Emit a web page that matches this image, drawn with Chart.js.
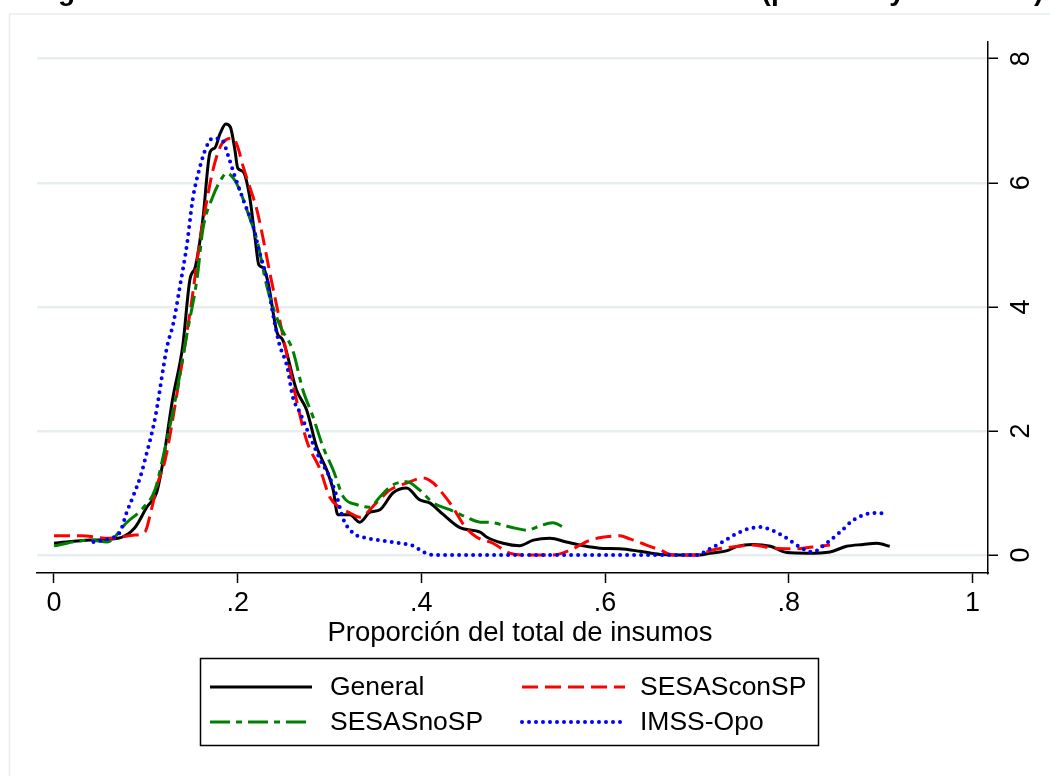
<!DOCTYPE html>
<html>
<head>
<meta charset="utf-8">
<script src="https://cdn.jsdelivr.net/npm/chart.js@4.4.1/dist/chart.umd.min.js"></script>
<style>
  body { margin: 0; background: #fff; }
  #wrap { width: 1050px; height: 776px; }
</style>
</head>
<body>
<div id="wrap"><canvas id="myChart" width="1050" height="776"></canvas></div>
<script>
// values
const generalX = [0, 0.04, 0.07, 0.088, 0.101, 0.112, 0.119, 0.129, 0.14, 0.148, 0.154, 0.162, 0.17, 0.175, 0.181, 0.187, 0.192, 0.197, 0.2, 0.206, 0.213, 0.219, 0.223, 0.228, 0.233, 0.243, 0.249, 0.264, 0.275, 0.286, 0.297, 0.304, 0.309, 0.322, 0.333, 0.344, 0.355, 0.369, 0.384, 0.398, 0.409, 0.424, 0.442, 0.464, 0.471, 0.489, 0.507, 0.522, 0.54, 0.558, 0.576, 0.594, 0.616, 0.638, 0.66, 0.703, 0.714, 0.733, 0.744, 0.761, 0.78, 0.798, 0.82, 0.845, 0.863, 0.881, 0.896, 0.91];
const generalY = [0.19, 0.24, 0.27, 0.44, 0.77, 1.02, 1.53, 2.5, 3.35, 4.44, 4.65, 5.4, 6.5, 6.56, 6.8, 6.95, 6.9, 6.53, 6.24, 6.18, 5.78, 5.1, 4.68, 4.63, 4.4, 3.58, 3.47, 2.66, 2.34, 1.74, 1.37, 1.05, 0.65, 0.65, 0.53, 0.69, 0.73, 1.0, 1.08, 0.89, 0.84, 0.65, 0.44, 0.37, 0.29, 0.19, 0.15, 0.24, 0.27, 0.21, 0.15, 0.11, 0.1, 0.06, 0.01, 0, 0.03, 0.07, 0.14, 0.17, 0.14, 0.04, 0.03, 0.05, 0.14, 0.17, 0.19, 0.14];

const conX = [0, 0.03, 0.06, 0.086, 0.099, 0.106, 0.113, 0.121, 0.135, 0.15, 0.159, 0.166, 0.173, 0.181, 0.188, 0.195, 0.2, 0.206, 0.213, 0.221, 0.228, 0.235, 0.247, 0.26, 0.275, 0.29, 0.3, 0.311, 0.322, 0.333, 0.351, 0.366, 0.384, 0.402, 0.413, 0.42, 0.432, 0.449, 0.46, 0.478, 0.496, 0.51, 0.543, 0.562, 0.584, 0.605, 0.616, 0.627, 0.645, 0.66, 0.674, 0.7, 0.717, 0.739, 0.761, 0.783, 0.805, 0.826, 0.845];
const conY = [0.31, 0.31, 0.27, 0.32, 0.37, 0.73, 1.16, 1.53, 2.7, 4.1, 5.08, 5.68, 6.2, 6.58, 6.7, 6.72, 6.58, 6.26, 5.94, 5.56, 5.08, 4.55, 3.7, 2.77, 1.85, 1.37, 0.94, 0.77, 0.68, 0.61, 0.84, 1.05, 1.16, 1.24, 1.16, 1.05, 0.82, 0.43, 0.29, 0.19, 0.03, 0, 0, 0.08, 0.24, 0.3, 0.31, 0.26, 0.16, 0.08, 0, 0, 0.08, 0.13, 0.16, 0.11, 0.1, 0.13, 0.16];

const noX = [0, 0.039, 0.058, 0.079, 0.097, 0.11, 0.118, 0.132, 0.145, 0.156, 0.162, 0.173, 0.183, 0.188, 0.195, 0.202, 0.211, 0.221, 0.232, 0.246, 0.26, 0.271, 0.282, 0.293, 0.304, 0.315, 0.33, 0.344, 0.355, 0.369, 0.384, 0.398, 0.413, 0.431, 0.449, 0.464, 0.471, 0.5, 0.515, 0.529, 0.543, 0.556];
const noY = [0.15, 0.24, 0.21, 0.52, 0.76, 1.05, 1.53, 2.5, 3.58, 4.48, 5.24, 5.78, 6.08, 6.16, 6.08, 5.89, 5.52, 5.08, 4.32, 3.7, 3.3, 2.66, 2.23, 1.74, 1.37, 0.94, 0.81, 0.77, 0.94, 1.13, 1.18, 1.05, 0.84, 0.73, 0.61, 0.53, 0.53, 0.44, 0.4, 0.47, 0.52, 0.44];

const imssX = [0.043, 0.061, 0.072, 0.079, 0.086, 0.094, 0.099, 0.11, 0.123, 0.13, 0.137, 0.145, 0.151, 0.159, 0.166, 0.173, 0.183, 0.19, 0.197, 0.206, 0.217, 0.224, 0.232, 0.237, 0.245, 0.254, 0.26, 0.268, 0.279, 0.29, 0.3, 0.308, 0.315, 0.326, 0.341, 0.358, 0.377, 0.391, 0.402, 0.413, 0.5, 0.6, 0.7, 0.714, 0.728, 0.744, 0.758, 0.769, 0.783, 0.798, 0.812, 0.826, 0.841, 0.856, 0.87, 0.885, 0.896, 0.908];
const imssY = [0.21, 0.27, 0.37, 0.68, 0.94, 1.26, 1.53, 2.2, 3.35, 3.74, 4.32, 5.03, 5.73, 6.26, 6.58, 6.72, 6.69, 6.42, 6.1, 5.73, 5.29, 4.87, 4.44, 4.0, 3.42, 3.03, 2.55, 2.29, 1.9, 1.53, 1.26, 0.94, 0.58, 0.35, 0.27, 0.23, 0.19, 0.15, 0.05, 0, 0, 0, 0, 0.1, 0.21, 0.35, 0.43, 0.45, 0.39, 0.27, 0.13, 0.05, 0.19, 0.37, 0.56, 0.66, 0.68, 0.65];

const seriesNames = ['General', 'SESASconSP', 'SESASnoSP', 'IMSS-Opo'];
const xTicks = [0, 0.2, 0.4, 0.6, 0.8, 1];
const yTicks = [0, 2, 4, 6, 8];
const xTitle = 'Proporción del total de insumos';
const topTitle = 'Figura 3. Distribución de la razón del total de insumos (por área y localidad)';

const FONT = '"Liberation Sans", Arial, sans-serif';

function pts(xs, ys) {
  return xs.map((x, i) => ({ x: x, y: ys[i] }));
}

function fmt(v) {
  if (v === 0) return '0';
  if (v === 1) return '1';
  return String(v).replace(/^0/, '');
}

const datasets = [
  { label: seriesNames[0], data: pts(generalX, generalY), borderColor: '#000000', borderWidth: 3, order: 4 },
  { label: seriesNames[1], data: pts(conX, conY), borderColor: '#ff0000', borderWidth: 3, borderDash: [16, 7], order: 3 },
  { label: seriesNames[2], data: pts(noX, noY), borderColor: '#008000', borderWidth: 3, borderDash: [20, 6, 6, 6], order: 2 },
  { label: seriesNames[3], data: pts(imssX, imssY), borderColor: '#0000ff', borderWidth: 4, borderDash: [0, 7], borderCapStyle: 'round', order: 1 }
];

// frame, rotated y labels, x title, legend box and cut-off title
const extras = {
  id: 'extras',
  beforeDraw(chart) {
    const c = chart.ctx;
    c.save();
    c.strokeStyle = '#e6eef0';
    c.lineWidth = 1.5;
    c.strokeRect(9.5, 14, 1100, 800);
    c.restore();
  },
  afterDraw(chart) {
    const c = chart.ctx;
    const ys = chart.scales.y;
    c.save();
    c.fillStyle = '#000';
    c.font = '27px ' + FONT;
    c.textAlign = 'center';
    c.textBaseline = 'middle';
    yTicks.forEach(v => {
      const py = ys.getPixelForValue(v);
      c.save();
      c.translate(1021, py);
      c.rotate(-Math.PI / 2);
      c.fillText(String(v), 0, 1);
      c.restore();
    });

    c.font = '27.5px ' + FONT;
    c.textBaseline = 'alphabetic';
    c.fillText(xTitle, 520, 641);

    // legend
    c.strokeStyle = '#000';
    c.lineWidth = 1.5;
    c.strokeRect(200.5, 658.5, 618, 87);
    const cols = [[210, 312, 330], [522, 625, 640]];
    const rows = [687, 722];
    datasets.forEach((d, i) => {
      const col = cols[i % 2];
      const row = rows[Math.floor(i / 2)];
      c.save();
      c.strokeStyle = d.borderColor;
      c.lineWidth = d.borderWidth;
      c.lineCap = d.borderCapStyle || 'butt';
      c.setLineDash(d.borderDash || []);
      c.beginPath();
      c.moveTo(col[0], row);
      c.lineTo(col[1], row);
      c.stroke();
      c.restore();
      c.font = '26.5px ' + FONT;
      c.textAlign = 'left';
      c.textBaseline = 'middle';
      c.fillText(d.label, col[2], row + 1);
    });

    // title, only its lower part is inside the picture
    const pre = topTitle.slice(0, topTitle.indexOf('('));
    c.font = 'bold 100px ' + FONT;
    const w1 = c.measureText(pre).width / 100;
    const w2 = c.measureText('Fi').width / 100;
    const size = (762 - 58) / (w1 - w2);
    c.font = 'bold ' + size.toFixed(2) + 'px ' + FONT;
    c.textAlign = 'left';
    c.textBaseline = 'alphabetic';
    c.fillText(topTitle, 762 - w1 * size, -0.5);
    c.restore();
  }
};

const ctx = document.getElementById('myChart').getContext('2d');
const myChart = new Chart(ctx, {
  type: 'line',
  data: { datasets: datasets },
  options: {
    responsive: false,
    animation: false,
    layout: { padding: { left: 37, top: 42, right: 0, bottom: 0 } },
    elements: {
      point: { radius: 0 },
      line: { cubicInterpolationMode: 'monotone', fill: false }
    },
    plugins: {
      legend: { display: false },
      tooltip: { enabled: false }
    },
    scales: {
      x: {
        type: 'linear',
        min: -0.0185,
        max: 1.017,
        afterBuildTicks: s => { s.ticks = xTicks.map(v => ({ value: v })); },
        afterFit: s => { s.height = 203; },
        ticks: {
          color: '#000',
          padding: 4,
          maxRotation: 0,
          font: { family: FONT, size: 27 },
          callback: v => fmt(v)
        },
        grid: { drawOnChartArea: false, drawTicks: true, tickLength: 10, tickColor: '#000', tickWidth: 1.5 },
        border: { display: true, color: '#000', width: 1.5 }
      },
      y: {
        position: 'right',
        min: -0.29,
        max: 8.27,
        afterBuildTicks: s => { s.ticks = yTicks.map(v => ({ value: v })); },
        afterFit: s => { s.width = 62; },
        ticks: { display: false },
        grid: { color: '#e6eef0', lineWidth: 2.5, drawTicks: true, tickLength: 10, tickColor: '#000', tickWidth: 1.5 },
        border: { display: true, color: '#000', width: 1.5 }
      }
    }
  },
  plugins: [extras]
});
</script>
</body>
</html>
